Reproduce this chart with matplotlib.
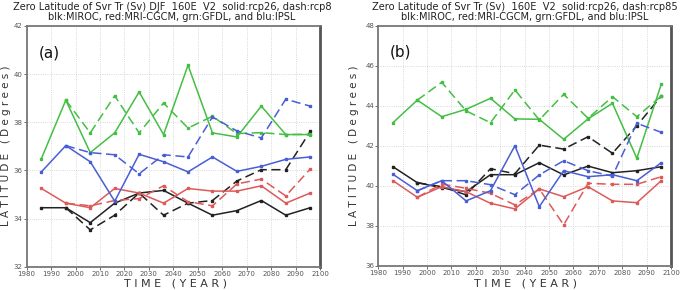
import numpy as np
import matplotlib
matplotlib.use("Agg")
import matplotlib.pyplot as plt

years = [1986, 1996, 2006, 2016, 2026, 2036, 2046, 2056, 2066, 2076, 2086, 2096]
years_rcp85 = years[1:]

# Panel (a) DJF
a_miroc_26 = [34.45, 34.45, 33.83, 34.64, 35.06, 35.17, 34.64, 34.14, 34.33, 34.75, 34.14, 34.45]
a_miroc_85 = [34.45, 33.53, 34.14, 35.06, 34.14, 34.64, 34.75, 35.56, 36.03, 36.03, 37.62]
a_mri_26 = [35.25, 34.64, 34.45, 35.25, 35.06, 34.64, 35.25, 35.14, 35.14, 35.36, 34.64, 35.06]
a_mri_85 = [34.64, 34.53, 34.75, 34.83, 35.36, 34.70, 34.53, 35.44, 35.64, 34.94, 36.06]
a_gfdl_26 = [36.49, 38.92, 36.74, 37.56, 39.26, 37.49, 40.37, 37.56, 37.39, 38.67, 37.49, 37.49]
a_gfdl_85 = [38.92, 37.56, 39.10, 37.56, 38.80, 37.76, 38.25, 37.53, 37.57, 37.49, 37.50]
a_ipsl_26 = [35.94, 37.03, 36.36, 34.72, 36.67, 36.36, 35.94, 36.56, 35.96, 36.17, 36.46, 36.56]
a_ipsl_85 = [37.03, 36.74, 36.65, 35.86, 36.65, 36.56, 38.22, 37.64, 37.35, 38.96, 38.67]

# Panel (b) annual
b_miroc_26 = [40.95, 40.15, 39.90, 39.70, 40.55, 40.55, 41.15, 40.54, 40.98, 40.65, 40.75, 40.95]
b_miroc_85 = [40.15, 39.95, 39.54, 40.85, 40.60, 42.03, 41.83, 42.45, 41.62, 43.00, 44.48]
b_mri_26 = [40.25, 39.42, 39.95, 39.70, 39.12, 38.84, 39.84, 39.45, 39.95, 39.24, 39.15, 40.25]
b_mri_85 = [39.42, 40.08, 39.87, 39.62, 39.04, 39.84, 38.04, 40.12, 40.07, 40.07, 40.45]
b_gfdl_26 = [43.15, 44.28, 43.45, 43.82, 44.37, 43.34, 43.32, 42.32, 43.34, 44.12, 41.37, 45.07]
b_gfdl_85 = [44.28, 45.17, 43.74, 43.15, 44.79, 43.29, 44.57, 43.37, 44.45, 43.45, 44.48]
b_ipsl_26 = [40.57, 39.75, 40.25, 39.24, 39.75, 42.00, 38.95, 40.75, 40.45, 40.55, 40.25, 41.15]
b_ipsl_85 = [39.75, 40.25, 40.25, 40.05, 39.55, 40.54, 41.25, 40.75, 40.48, 43.12, 42.67]

xticks = list(range(1980, 2101, 10))
a_yticks = [32, 34, 36, 38, 40, 42]
b_yticks = [36, 38, 40, 42, 44, 46, 48]

title_a = ["Zero Latitude of Svr Tr (Sv) DJF  160E  V2  solid:rcp26, dash:rcp8",
           "blk:MIROC, red:MRI-CGCM, grn:GFDL, and blu:IPSL"]
title_b = ["Zero Latitude of Svr Tr (Sv)  160E  V2  solid:rcp26, dash:rcp85",
           "blk:MIROC, red:MRI-CGCM, grn:GFDL, and blu:IPSL"]

C_BLK = "#222222"
C_RED = "#dd5a5a"
C_GRN = "#44bf44"
C_BLU = "#4a5ed4"

W, H = 685, 290
fig = plt.figure(figsize=(W / 100, H / 100), dpi=100)


def px_axes(l, t, r, b):
    return fig.add_axes([l / W, 1 - b / H, (r - l) / W, (b - t) / H])


def draw(ax, series, ylim, yticks, label):
    for col, s26, s85 in series:
        ax.plot(years, s26, color=col, lw=1.1, marker="s", ms=1.7, zorder=3)
        ax.plot(years_rcp85, s85, color=col, lw=1.1, marker="s", ms=1.7,
                dashes=(6, 3), zorder=3)
    ax.set_xlim(1980, 2100)
    ax.set_ylim(*ylim)
    ax.set_xticks(xticks)
    ax.set_yticks(yticks)
    ax.tick_params(labelsize=5, colors="#555555", length=2, width=0.6, pad=1)
    ax.grid(True, color="#cccccc", ls=":", lw=0.6)
    for sp in ax.spines.values():
        sp.set_color("#777777")
        sp.set_linewidth(1.3)
    ax.spines["right"].set_linewidth(2.0)
    ax.spines["right"].set_color("#555555")
    ax.text(0.04, 0.92, label, transform=ax.transAxes, fontsize=11,
            va="top", ha="left", color="#111111")


ax_a = px_axes(26.7, 26, 320, 266.7)
draw(ax_a, [(C_BLK, a_miroc_26, a_miroc_85), (C_RED, a_mri_26, a_mri_85),
            (C_GRN, a_gfdl_26, a_gfdl_85), (C_BLU, a_ipsl_26, a_ipsl_85)],
     (32, 42), a_yticks, "(a)")

ax_b = px_axes(378.3, 25.7, 671, 265.7)
draw(ax_b, [(C_BLK, b_miroc_26, b_miroc_85), (C_RED, b_mri_26, b_mri_85),
            (C_GRN, b_gfdl_26, b_gfdl_85), (C_BLU, b_ipsl_26, b_ipsl_85)],
     (36, 48), b_yticks, "(b)")

# Titles
for (tx, lines) in [(172, title_a), (525, title_b)]:
    fig.text(tx / W, 1 - 7 / H, lines[0], ha="center", va="center", fontsize=7.1, color="#222222")
    fig.text(tx / W, 1 - 16.5 / H, lines[1], ha="center", va="center", fontsize=7.1, color="#222222")

# Axis labels
for (tx, ylx) in [(175, 6), (525, 354)]:
    fig.text(tx / W, 1 - 283 / H, "T I M E   ( Y E A R )", ha="center", va="center",
             fontsize=8, color="#333333")
    fig.text(ylx / W, 1 - 146 / H, "L A T I T U D E   ( D e g r e e s )", ha="center",
             va="center", rotation=90, fontsize=7.5, color="#333333")

fig.savefig("out.png", dpi=100, facecolor="white")
